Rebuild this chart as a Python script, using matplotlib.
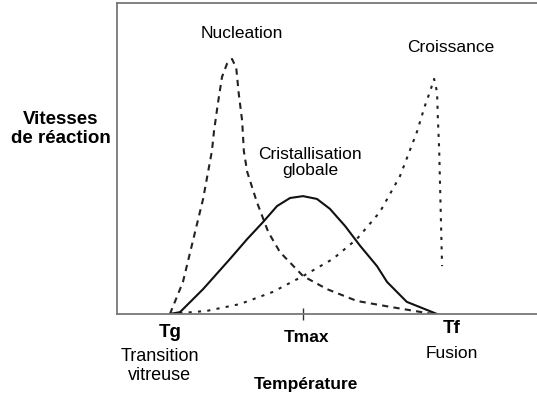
import matplotlib
matplotlib.use("Agg")
import matplotlib.pyplot as plt

plt.rcParams["font.family"] = ["Liberation Sans", "DejaVu Sans"]

# courbes (temperature 0-100, vitesse 0-100)
nuc_t = [12.6, 15.7, 20.5, 22.6, 23.1, 24.0, 25.0, 26.2, 27.4, 28.4, 29.0, 29.8, 30.2, 31.0,
         33.3, 36.0, 38.8, 44.3, 50.0, 57.1, 65.0, 75.2]
nuc_v = [0, 10.3, 37.0, 52.4, 58.8, 67.5, 76.2, 80.5, 82.0, 79.0, 70.7, 62.1, 52.4, 45.7,
         36.0, 26.4, 19.9, 12.2, 8.0, 4.2, 2.3, 0]

cro_t = [12.6, 21.4, 29.3, 37.1, 44.3, 51.4, 57.1, 62.6, 67.4, 71.4, 73.3, 74.5, 75.5, 76.2,
         76.4, 76.7, 77.1, 77.4]
cro_v = [0, 1.0, 3.2, 7.1, 12.2, 17.7, 24.1, 32.8, 44.4, 58.5, 66.9, 71.4, 75.6, 71.4,
         62.7, 53.1, 31.5, 15.4]

cg_t = [12.6, 15.0, 20.5, 26.9, 31.0, 34.8, 38.1, 41.2, 44.3, 47.6, 50.7, 54.3, 57.9, 61.9, 64.3, 69.0, 76.2]
cg_v = [0, 0.6, 8.0, 17.7, 24.1, 29.6, 34.7, 37.3, 37.9, 37.0, 33.8, 28.3, 21.9, 15.4, 10.3, 3.9, 0]

t_g, t_max, t_f = 12.6, 44.3, 76.2

fig = plt.figure(figsize=(5.37, 4.02), dpi=100)
ax = fig.add_axes([117 / 537, 87 / 402, 420 / 537, 311 / 402])

ax.plot(nuc_t, nuc_v, color="#222222", lw=1.5, ls=(0, (3, 2.5)))
ax.plot(cro_t, cro_v, color="#222222", lw=1.5, ls=(0, (1.5, 3)))
ax.plot(cg_t, cg_v, color="#111111", lw=1.5)

ax.set_xlim(0, 100)
ax.set_ylim(0, 100)
ax.spines["right"].set_visible(False)
for s in ["left", "bottom", "top"]:
    ax.spines[s].set_color("#777777")
    ax.spines[s].set_linewidth(1.3)
ax.set_yticks([])
ax.set_xticks([t_max])
ax.set_xticklabels([""])
ax.tick_params(axis="x", direction="inout", length=9, width=1, color="#333333")

ax.text(29.6, 90.5, "Nucleation", ha="center", va="center", fontsize=12.5)
ax.text(79.4, 86, "Croissance", ha="center", va="center", fontsize=12.5)
ax.text(46, 49, "Cristallisation\nglobale", ha="center", va="center", fontsize=12.5, linespacing=1.1)

fig.text(61 / 537, 1 - 129 / 402, "Vitesses\nde réaction", ha="center", va="center",
         fontsize=13.5, fontweight="bold", linespacing=1.15)

fig.text(170 / 537, 1 - 333 / 402, "Tg", ha="center", va="center", fontsize=13.5, fontweight="bold")
fig.text(160 / 537, 1 - 366 / 402, "Transition\nvitreuse", ha="center", va="center", fontsize=13, linespacing=1.15)
fig.text(306 / 537, 1 - 338 / 402, "Tmax", ha="center", va="center", fontsize=12.5, fontweight="bold")
fig.text(452 / 537, 1 - 329 / 402, "Tf", ha="center", va="center", fontsize=13.5, fontweight="bold")
fig.text(452 / 537, 1 - 353 / 402, "Fusion", ha="center", va="center", fontsize=12.5)
fig.text(306 / 537, 1 - 385 / 402, "Température", ha="center", va="center", fontsize=12.5, fontweight="bold")

fig.savefig("out.png", dpi=100)
